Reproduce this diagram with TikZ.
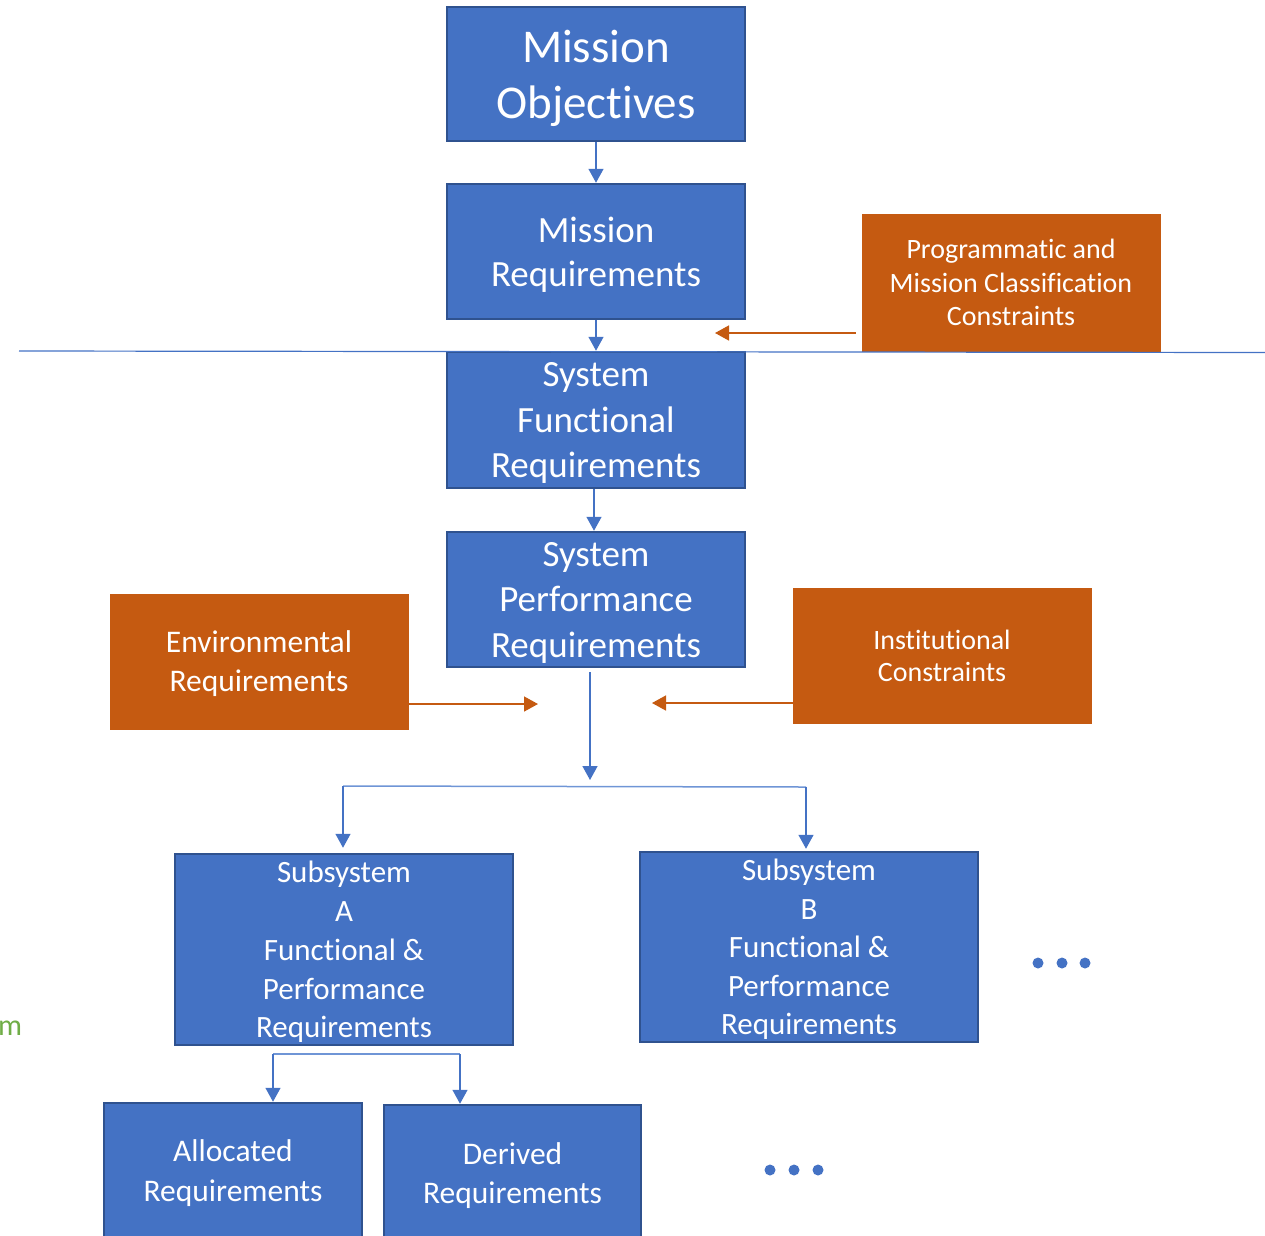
\documentclass[tikz,border=0pt]{standalone}
\usepackage{fontspec}
\setmainfont{Carlito}[Ligatures=NoCommon]
\usetikzlibrary{arrows.meta}
\definecolor{bfill}{HTML}{4472C4}
\definecolor{bdraw}{HTML}{2F528F}
\definecolor{ofill}{HTML}{C55A11}
\definecolor{lblue}{HTML}{6F95D6}
\definecolor{mgreen}{HTML}{70AD47}
\tikzset{
  bbox/.style={draw=bdraw, line width=2.5pt, fill=bfill, text=white, align=center, inner sep=0pt, text depth=0pt},
  obox/.style={draw=ofill, line width=1pt, fill=ofill, text=white, align=center, inner sep=0pt, text depth=0pt},
  barrow/.style={draw=bfill, line width=1.5pt, -{Triangle[width=15pt,length=14pt]}},
  oarrow/.style={draw=ofill, line width=1.5pt, -{Triangle[width=15pt,length=14pt]}},
  bline/.style={draw=lblue, line width=1.5pt},
  dot/.style={circle, fill=bfill, inner sep=0pt, minimum size=11pt},
}
\begin{document}
\begin{tikzpicture}[x=1pt,y=-1pt]
\useasboundingbox (0,0) rectangle (1265,1235);
% nodes
\node[bbox, minimum width=298pt, minimum height=134pt, font=\fontsize{47}{56}\selectfont] (mo) at (596,74) {Mission\\Objectives};
\node[bbox, minimum width=298pt, minimum height=135pt, font=\fontsize{37}{44}\selectfont] (mr) at (596,251.5) {Mission\\Requirements};
\node[obox, minimum width=298pt, minimum height=137pt, font=\fontsize{28}{33.5}\selectfont] (prog) at (1011,282.5) {Programmatic and\\Mission Classification\\Constraints};
\node[bbox, minimum width=298pt, minimum height=136pt, font=\fontsize{37}{45.5}\selectfont] (sfr) at (596,420) {System\\Functional\\Requirements};
\node[bbox, minimum width=298pt, minimum height=135pt, font=\fontsize{37}{45.5}\selectfont] (spr) at (596,599.5) {System\\Performance\\Requirements};
\node[obox, minimum width=298pt, minimum height=135pt, font=\fontsize{31.5}{39}\selectfont] (env) at (259,661.5) {Environmental\\Requirements};
\node[obox, minimum width=298pt, minimum height=135pt, font=\fontsize{28}{32}\selectfont] (inst) at (942,655.5) {Institutional\\Constraints};
\node[bbox, minimum width=338pt, minimum height=191pt, font=\fontsize{31}{38.8}\selectfont] (suba) at (344,949.5) {Subsystem\\A\\Functional \&\\Performance\\Requirements};
\node[bbox, minimum width=338pt, minimum height=190pt, font=\fontsize{31}{38.5}\selectfont] (subb) at (809,947) {Subsystem\\B\\Functional \&\\Performance\\Requirements};
\node[bbox, minimum width=258pt, minimum height=136pt, font=\fontsize{31.5}{40}\selectfont] (alloc) at (233,1171) {Allocated\\Requirements};
\node[bbox, minimum width=257pt, minimum height=136pt, font=\fontsize{31.5}{39}\selectfont] (der) at (512.5,1173) {Derived\\Requirements};
\node[text=mgreen, font=\fontsize{30}{36}\selectfont, inner sep=0pt] (mm) at (10,1028) {m};
% dots
\node[dot] (d1) at (1038,963) {};
\node[dot] (d2) at (1062,963) {};
\node[dot] (d3) at (1085,963) {};
\node[dot] (e1) at (770,1170) {};
\node[dot] (e2) at (794,1170) {};
\node[dot] (e3) at (818,1170) {};
% coordinates
\coordinate (divL) at (19,351);
\coordinate (divR) at (1265,352.5);
\coordinate (pa) at (715,333);
\coordinate (spb) at (590,672);
\coordinate (hub) at (590,780);
\coordinate (ea) at (538,704);
\coordinate (ia) at (652,703);
\coordinate (bl) at (343,786);
\coordinate (br) at (806,787);
\coordinate (al) at (273,1054);
\coordinate (ar) at (460,1054);
% connectors
\draw[barrow] (mo.south) -- (mr.north);
\draw[barrow] (mr.south) -- (sfr.north);
\draw[draw=bfill, line width=1.2pt] (divL) -- (divR);
\draw[oarrow] ([xshift=-6pt]prog.west |- pa) -- (pa);
\draw[barrow] ([xshift=-2pt]sfr.south) -- ([xshift=-2pt]spr.north);
\draw[barrow] (spb) -- (hub);
\draw[oarrow] (env.east |- ea) -- (ea);
\draw[oarrow] (inst.west |- ia) -- (ia);
\draw[bline] (bl) -- (br);
\draw[barrow, shorten >=5pt] (bl) -- (bl |- suba.north);
\draw[barrow, shorten >=2pt] (br) -- (br |- subb.north);
\draw[bline] (al) -- (ar);
\draw[barrow] (al) -- (al |- alloc.north);
\draw[barrow] (ar) -- (ar |- der.north);
\end{tikzpicture}
\end{document}
